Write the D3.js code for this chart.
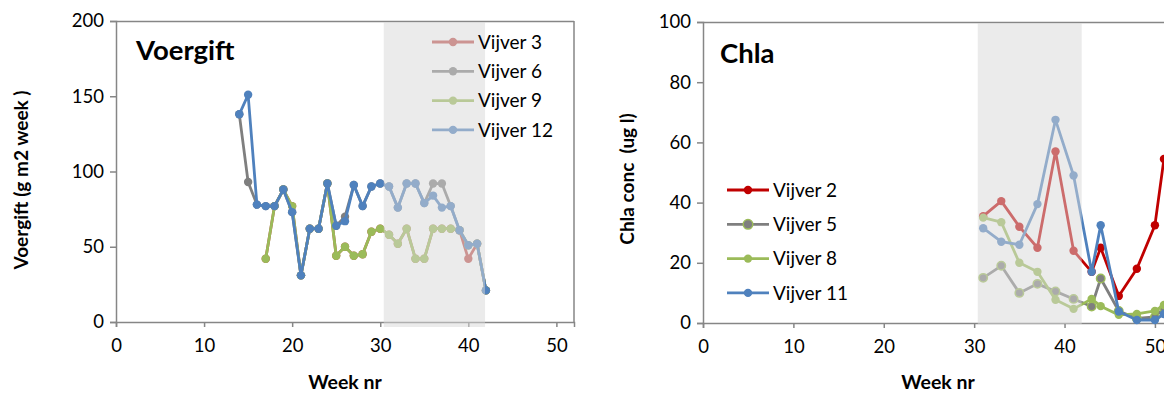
<!DOCTYPE html>
<html><head><meta charset="utf-8">
<script src="https://cdn.jsdelivr.net/npm/d3@7"></script>
<style>body{margin:0;background:#fff;overflow:hidden} svg{display:block;font-family:Lato,"Open Sans",sans-serif;}</style>
</head><body><svg width="1164" height="394"></svg>
<script>
// ---------- data ----------
const feedWeeks = [14,15,16,17,18,19,20,21,22,23,24,25,26,27,28,29,30,31,32,33,34,35,36,37,38,39,40,41,42];
const feedV3  = [null,null,null,42,77,88,77,31,62,62,92,44,50,44,45,60,62,58,52,62,42,42,62,62,62,61,42,52,21];
const feedV6  = [138,93,78,77,77,88,73,31,62,62,92,64,70,91,77,90,92,90,76,92,92,79,92,92,77,61,51,52,21];
const feedV9  = [null,null,null,42,77,88,77,31,62,62,92,44,50,44,45,60,62,58,52,62,42,42,62,62,62,61,51,52,21];
const feedV12 = [138,151,78,77,77,88,73,31,62,62,92,64,67,91,77,90,92,90,76,92,92,79,84,76,77,61,51,52,21];
const feedNames = ["Vijver 3","Vijver 6","Vijver 9","Vijver 12"];

const chlaWeeks = [31,33,35,37,39,41,43,44,46,48,50,51];
const chlaV2  = [35.5,40.5,32,25,57,24,17,25,9,18,32.5,54.5];
const chlaV5  = [15,19,10,13,10.5,8,5.5,14.8,4,1.5,2,5];
const chlaV8  = [35,33.5,20,17,7.7,4.7,8,5.6,2.7,3,4,6];
const chlaV11 = [31.5,27,26,39.5,67.5,49,17,32.5,3.8,1,1,3];
const chlaNames = ["Vijver 2","Vijver 5","Vijver 8","Vijver 11"];

const bandWeeks = [30.4, 41.9];
const xTicks = [0,10,20,30,40,50];
const feedYTicks = [0,50,100,150,200];
const chlaYTicks = [0,20,40,60,80,100];

// ---------- drawing ----------
const svg = d3.select("svg");
const axisCol = "#868686";

function panel(o){
  const g = svg.append("g");
  const x = d3.scaleLinear().domain([0,52]).range(o.xr);
  const y = d3.scaleLinear().domain(o.yd).range(o.yr);
  // frame (top / right)
  g.append("line").attr("x1",o.xr[0]).attr("x2",o.xr[1]).attr("y1",o.yr[1]+0.5).attr("y2",o.yr[1]+0.5).attr("stroke",axisCol).attr("stroke-width",1.5);
  if(o.rightBorder) g.append("line").attr("x1",o.xr[1]).attr("x2",o.xr[1]).attr("y1",o.yr[1]).attr("y2",o.yr[0]).attr("stroke",axisCol).attr("stroke-width",1.5);
  // axes
  const xa = g.append("g").attr("transform",`translate(0,${o.yr[0]})`)
    .call(d3.axisBottom(x).tickValues(xTicks).tickSize(5).tickPadding(12).tickFormat(d3.format("d")));
  const ya = g.append("g").attr("transform",`translate(${o.xr[0]},0)`)
    .call(d3.axisLeft(y).tickValues(o.yTicks).tickSize(6).tickPadding(6).tickFormat(d3.format("d")));
  [xa,ya].forEach(a=>{
    a.select(".domain").attr("stroke",axisCol).attr("stroke-width",1.5);
    a.selectAll(".tick line").attr("stroke",axisCol).attr("stroke-width",1.5);
    a.selectAll("text").attr("fill","#000").style("font-size","18.5px").style("font-family","Lato");
  });
  // series
  const line = d3.line().defined(d=>d[1]!=null).x(d=>x(d[0])).y(d=>y(d[1]));
  o.series.forEach((s,i)=>{
    const pts = o.weeks.map((w,j)=>[w,s.vals[j]]);
    g.append("path").datum(pts).attr("d",line).attr("fill","none").attr("stroke",s.col).attr("stroke-width",2.8).attr("stroke-linejoin","round");
    g.selectAll(null).data(pts.filter(p=>p[1]!=null)).enter().append("circle")
      .attr("cx",d=>x(d[0])).attr("cy",d=>y(d[1])).attr("r",4.2)
      .attr("fill",s.mfill||s.col).attr("stroke",s.mstroke||"none").attr("stroke-width",1.5);
  });
  // legend symbols
  o.series.forEach((s,i)=>{
    const ly = o.leg.y0 + i*o.leg.dy;
    g.append("line").attr("x1",o.leg.x).attr("x2",o.leg.x+42).attr("y1",ly).attr("y2",ly).attr("stroke",s.col).attr("stroke-width",2.8);
    g.append("circle").attr("cx",o.leg.x+21).attr("cy",ly).attr("r",s.mstroke?4.8:4.2).attr("fill",s.mfill||s.col).attr("stroke",s.mstroke||"none").attr("stroke-width",1.5);
  });
  // shaded band (semi-transparent over the lines)
  g.append("rect").attr("x",x(bandWeeks[0])).attr("width",x(bandWeeks[1])-x(bandWeeks[0]))
    .attr("y",o.yr[1]+1).attr("height",o.yr[0]-o.yr[1]+o.bandExtra)
    .attr("fill","rgb(216,216,216)").attr("fill-opacity",0.5);
  // legend text
  o.series.forEach((s,i)=>{
    const ly = o.leg.y0 + i*o.leg.dy;
    g.append("text").attr("x",o.leg.x+46).attr("y",ly).attr("dy","0.35em").style("font-size","19px").attr("fill","#000").text(s.name);
  });
  // titles
  g.append("text").attr("x",o.title.x).attr("y",o.title.y).style("font-size","27.5px").style("font-weight","bold").text(o.title.t);
  g.append("text").attr("x",(o.xr[0]+o.xr[1])/2).attr("y",389).attr("text-anchor","middle").style("font-size","19.5px").style("font-weight","bold").text("Week nr");
  g.append("text").attr("transform",`translate(${o.ylab.x},${o.ylab.y}) rotate(-90)`).attr("text-anchor","middle").attr("dy","0.35em")
    .style("font-size","19px").style("font-weight","bold").style("white-space","pre").text(o.ylab.t);
}

panel({
  xr:[116,574], yd:[0,200], yr:[322,21], yTicks:feedYTicks, rightBorder:true, bandExtra:4,
  weeks:feedWeeks,
  series:[
    {name:feedNames[0], vals:feedV3, col:"#c0504d"},
    {name:feedNames[1], vals:feedV6, col:"#7f7f7f"},
    {name:feedNames[2], vals:feedV9, col:"#9bbb59"},
    {name:feedNames[3], vals:feedV12, col:"#4f81bd"}
  ],
  leg:{x:432, y0:42, dy:29.3},
  title:{x:136, y:60, t:"Voergift"},
  ylab:{x:21, y:180, t:"Voergift (g m2 week )"}
});
panel({
  xr:[703,1173], yd:[0,100], yr:[323,22], yTicks:chlaYTicks, rightBorder:false, bandExtra:0,
  weeks:chlaWeeks,
  series:[
    {name:chlaNames[0], vals:chlaV2, col:"#c00000"},
    {name:chlaNames[1], vals:chlaV5, col:"#7f7f7f", mfill:"#7f7f7f", mstroke:"#9bbb59"},
    {name:chlaNames[2], vals:chlaV8, col:"#9bbb59"},
    {name:chlaNames[3], vals:chlaV11, col:"#4f81bd"}
  ],
  leg:{x:727, y0:190, dy:34.3},
  title:{x:720, y:63, t:"Chla"},
  ylab:{x:627, y:179, t:"Chla conc  (ug l)"}
});
</script></body></html>
